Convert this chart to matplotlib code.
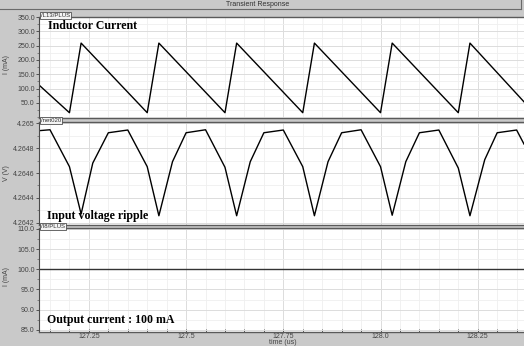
import matplotlib
matplotlib.use("Agg")
import matplotlib.pyplot as plt
from matplotlib.ticker import FixedLocator, MultipleLocator

# ---------------- data ----------------
# Inductor current (mA) vs time (us)
il_time = [127.119, 127.20, 127.23, 127.40, 127.43, 127.60, 127.63, 127.80, 127.83,
           128.00, 128.03, 128.20, 128.23, 128.369]
il_ma = [116, 16, 259, 16, 259, 16, 259, 16, 259, 16, 259, 16, 259, 54]

# Input voltage ripple (V) vs time (us)
vin_time = [127.119, 127.150, 127.200, 127.230, 127.260, 127.300, 127.350,
            127.400, 127.430, 127.465, 127.500, 127.550,
            127.600, 127.630, 127.665, 127.700, 127.750,
            127.800, 127.830, 127.865, 127.900, 127.950,
            128.000, 128.030, 128.065, 128.100, 128.150,
            128.200, 128.230, 128.268, 128.300, 128.350, 128.369]
vin_v = [4.264940, 4.264948, 4.264651, 4.264270, 4.264680, 4.264924, 4.264946,
         4.264651, 4.264256, 4.264691, 4.264924, 4.264948,
         4.264646, 4.264256, 4.264691, 4.264924, 4.264946,
         4.264651, 4.264256, 4.264691, 4.264924, 4.264948,
         4.264651, 4.264260, 4.264691, 4.264924, 4.264946,
         4.264640, 4.264256, 4.264707, 4.264924, 4.264946, 4.264833]

# Output current (mA)
iout_time = [127.119, 128.369]
iout_ma = [100.0, 100.0]

x_ticks = [127.25, 127.5, 127.75, 128.0, 128.25]
x_ticklabels = ["127.25", "127.5", "127.75", "128.0", "128.25"]
y1_ticks = [50, 100, 150, 200, 250, 300, 350]
y1_ticklabels = ["50.0", "100.0", "150.0", "200.0", "250.0", "300.0", "350.0"]
y2_ticks = [4.2642, 4.2644, 4.2646, 4.2648, 4.2650]
y2_ticklabels = ["4.2642", "4.2644", "4.2646", "4.2648", "4.265"]
y3_ticks = [85, 90, 95, 100, 105, 110]
y3_ticklabels = ["85.0", "90.0", "95.0", "100.0", "105.0", "110.0"]

panel_names = ["/L13/PLUS", "/net020", "/I8/PLUS"]
panel_titles = ["Inductor Current", "Input voltage ripple", "Output current : 100 mA"]
y_labels = ["I (mA)", "V (V)", "I (mA)"]
window_title = "Transient Response"
x_label = "time (us)"

# ---------------- figure ----------------
W, H = 524, 346
BG = "#c9c9c9"
fig = plt.figure(figsize=(W / 100, H / 100), dpi=100, facecolor=BG)

XL = 39


def rect(y_top, y_bot):
    return [XL / W, 1 - y_bot / H, (W - XL) / W, (y_bot - y_top) / H]


def fx(px):
    return px / W


def fy(py):
    return 1 - py / H


ax1 = fig.add_axes(rect(17, 117.5))
ax2 = fig.add_axes(rect(122, 225))
ax3 = fig.add_axes(rect(228, 331.5))

xlim = (127.1217, 128.369)
tick_font = dict(family="Liberation Sans", size=5, color="#444444")

for ax in (ax1, ax2, ax3):
    ax.set_facecolor("white")
    ax.set_xlim(*xlim)
    ax.xaxis.set_major_locator(FixedLocator(x_ticks))
    ax.xaxis.set_minor_locator(MultipleLocator(0.05))
    ax.grid(which="major", color="#dcdcdc", lw=0.7)
    ax.grid(which="minor", color="#efefef", lw=0.6)
    ax.set_axisbelow(True)
    for s in ("top", "bottom"):
        ax.spines[s].set_color("#5a5a5a")
        ax.spines[s].set_linewidth(1.0)
    ax.spines["left"].set_color("#4a4a4a")
    ax.spines["left"].set_linewidth(0.8)
    ax.spines["right"].set_visible(False)
    ax.tick_params(axis="y", which="major", direction="out", length=2.5, width=0.6,
                   color="#404040", pad=0.5)
    ax.tick_params(axis="y", which="minor", direction="out", length=1.5, width=0.5,
                   color="#606060")
    ax.tick_params(axis="x", which="both", direction="in", length=2, width=0.6,
                   color="#404040", pad=1)

for ax in (ax1, ax2):
    ax.tick_params(axis="x", which="both", length=0, labelbottom=False)

ax1.plot(il_time, il_ma, color="black", lw=1.0)
ax1.set_ylim(-0.7, 350)
ax1.set_yticks(y1_ticks)
ax1.set_yticklabels(y1_ticklabels, **tick_font)
ax1.yaxis.set_minor_locator(MultipleLocator(25))

ax2.plot(vin_time, vin_v, color="black", lw=1.0)
ax2.set_ylim(4.2641815, 4.2650105)
ax2.set_yticks(y2_ticks)
ax2.set_yticklabels(y2_ticklabels, **tick_font)
ax2.yaxis.set_minor_locator(MultipleLocator(0.0001))

ax3.plot(iout_time, iout_ma, color="#333333", lw=1.0)
ax3.set_ylim(84.6, 110.2)
ax3.set_yticks(y3_ticks)
ax3.set_yticklabels(y3_ticklabels, **tick_font)
ax3.yaxis.set_minor_locator(MultipleLocator(2.5))
ax3.set_xticks(x_ticks)
ax3.set_xticklabels(x_ticklabels, **tick_font)

# y-axis labels
for lab, yc in zip(y_labels, [64, 173, 277]):
    fig.text(fx(7), fy(yc), lab, rotation=90, ha="center", va="center",
             family="Liberation Sans", size=5, color="#444444")

# x label
fig.text(fx(283), fy(342.5), x_label, ha="center", va="center",
         family="Liberation Sans", size=5, color="#444444")

# window title bar
fig.add_artist(plt.Line2D([0, fx(521)], [fy(8.7), fy(8.7)], color="#6a6a6a", lw=0.8))
fig.add_artist(plt.Line2D([fx(521), fx(521)], [fy(0), fy(8.7)], color="#6a6a6a", lw=0.8))
fig.text(fx(258), fy(4.3), window_title, ha="center", va="center",
         family="Liberation Sans", size=5, color="#303030")

# panel name tabs
for name, ytop in zip(panel_names, [17, 122, 228]):
    fig.text(fx(41), fy(ytop - 1.6), name, ha="left", va="center",
             family="Liberation Sans", size=4.3, color="#303030",
             bbox=dict(boxstyle="square,pad=0.15", fc="#f4f4f4", ec="#505050", lw=0.6))

# panel titles
for t, (xp, yp) in zip(panel_titles, [(48, 26), (47, 216), (47, 320)]):
    fig.text(fx(xp), fy(yp), t, ha="left", va="center",
             family="Liberation Serif", weight="bold", size=8.6, color="black")

fig.savefig("out.png", dpi=100, facecolor=BG)
